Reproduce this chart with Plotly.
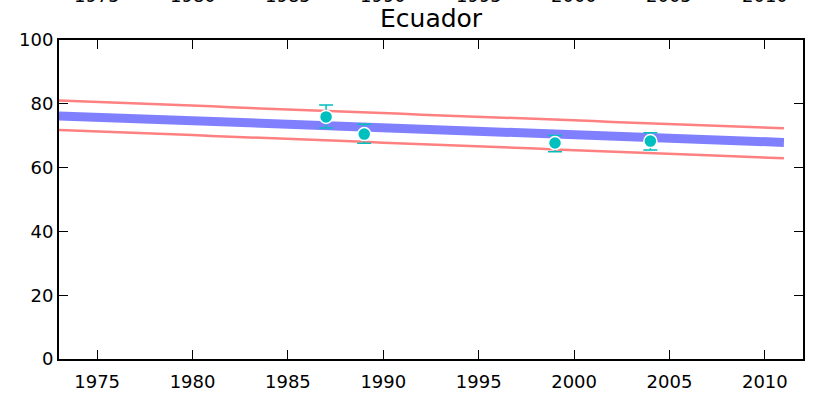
import plotly.graph_objects as go

years = list(range(1973, 2012))
blue_fit = [76.2, 76.0, 75.8, 75.5, 75.3, 75.1, 74.9, 74.7, 74.5, 74.2,
            74.0, 73.8, 73.6, 73.4, 73.2, 72.9, 72.7, 72.5, 72.3, 72.1,
            71.9, 71.6, 71.4, 71.2, 71.0, 70.8, 70.5, 70.3, 70.1, 69.9,
            69.7, 69.5, 69.2, 69.0, 68.8, 68.6, 68.4, 68.1, 67.9]
red_upper = [81.0, 80.8, 80.5, 80.3, 80.1, 79.9, 79.6, 79.4, 79.2, 78.9,
             78.7, 78.5, 78.3, 78.0, 77.8, 77.6, 77.3, 77.1, 76.9, 76.6,
             76.4, 76.2, 76.0, 75.7, 75.5, 75.3, 75.0, 74.8, 74.6, 74.3,
             74.1, 73.9, 73.7, 73.4, 73.2, 73.0, 72.7, 72.5, 72.3]
red_lower = [71.8, 71.6, 71.3, 71.1, 70.9, 70.6, 70.4, 70.2, 69.9, 69.7,
             69.5, 69.2, 69.0, 68.8, 68.5, 68.3, 68.1, 67.8, 67.6, 67.4,
             67.1, 66.9, 66.7, 66.4, 66.2, 66.0, 65.7, 65.5, 65.3, 65.0,
             64.8, 64.6, 64.3, 64.1, 63.9, 63.6, 63.4, 63.2, 62.9]

obs_years = [1987, 1989, 1999, 2004]
obs_vals = [75.9, 70.5, 67.7, 68.3]
obs_hi = [79.6, 73.6, 70.1, 70.9]
obs_lo = [72.4, 67.6, 65.0, 65.5]

tick_years = [1975, 1980, 1985, 1990, 1995, 2000, 2005, 2010]
y_ticks = [0, 20, 40, 60, 80, 100]
title = "Ecuador"
next_title = "El Salvador"

FONT = "DejaVu Sans"
teal = "#00BFBF"

fig = go.Figure()
fig.add_trace(go.Scatter(x=years, y=red_upper, mode="lines",
                         line=dict(color="#FF8080", width=2.5), showlegend=False))
fig.add_trace(go.Scatter(x=years, y=red_lower, mode="lines",
                         line=dict(color="#FF8080", width=2.5), showlegend=False))
fig.add_trace(go.Scatter(x=years, y=blue_fit, mode="lines",
                         line=dict(color="#8080FF", width=9), showlegend=False))
fig.add_trace(go.Scatter(
    x=obs_years, y=obs_vals, mode="markers",
    marker=dict(color=teal, size=13, line=dict(color="white", width=1.5)),
    error_y=dict(type="data", symmetric=False,
                 array=[h - v for h, v in zip(obs_hi, obs_vals)],
                 arrayminus=[v - l for v, l in zip(obs_vals, obs_lo)],
                 color=teal, thickness=1.5, width=7),
    showlegend=False))

axis_common = dict(showline=True, linecolor="black", linewidth=2, mirror="allticks",
                   ticks="inside", ticklen=9, tickwidth=1, tickcolor="black",
                   showgrid=False, zeroline=False, automargin=False,
                   tickfont=dict(family=FONT, size=18, color="black"))

fig.update_xaxes(range=[1973, 2012], tickvals=tick_years, ticklabelstandoff=5,
                 **axis_common)
fig.update_yaxes(range=[0, 100], tickvals=y_ticks, **axis_common)

fig.update_layout(
    width=813, height=393,
    margin=dict(l=59, r=10, t=40, b=34),
    paper_bgcolor="white", plot_bgcolor="white",
)
ann = [dict(text=title, x=0.5, xref="paper", y=1 + (40 - 18) / 319, yref="paper",
            yanchor="middle", showarrow=False,
            font=dict(family=FONT, size=25, color="black")),
       dict(text=next_title, x=0.5, xref="paper", y=-(403 - 359) / 319, yref="paper",
            yanchor="middle", showarrow=False,
            font=dict(family=FONT, size=25, color="black"))]
for t in tick_years:
    ann.append(dict(text=str(t), x=t, xref="x", y=1 + (40 + 4) / 319, yref="paper",
                    yanchor="middle", showarrow=False,
                    font=dict(family=FONT, size=18, color="black")))
fig.update_layout(annotations=ann)

fig.write_html("out.html", config={"displayModeBar": False},
               post_script="document.body.style.margin='0px';")
